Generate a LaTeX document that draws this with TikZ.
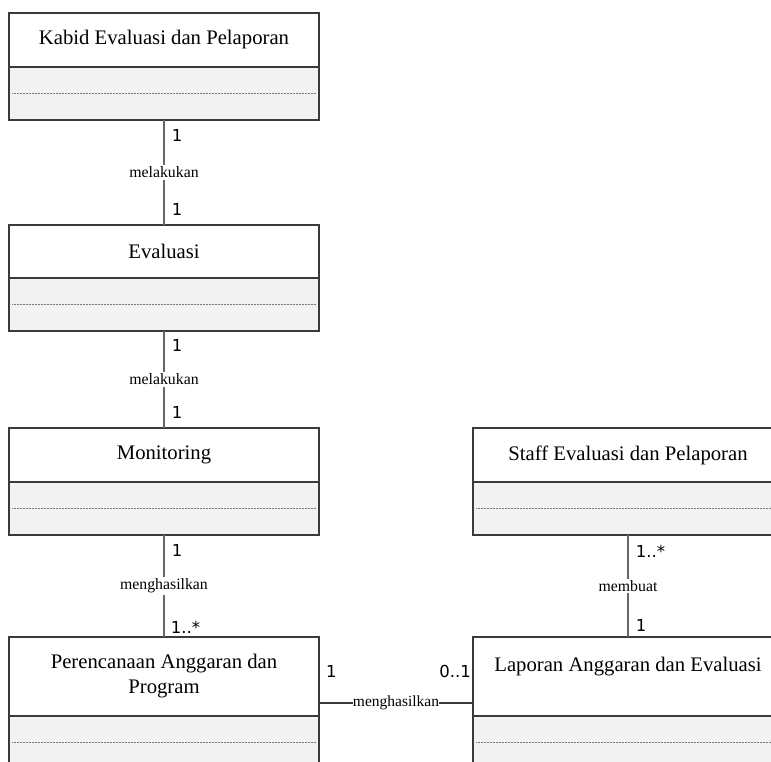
\documentclass[tikz,border=0pt]{standalone}
\usepackage{fontspec}
\setmainfont{Liberation Serif}
\newfontfamily\multfont{DejaVu Sans}
\definecolor{bcol}{HTML}{3A3A3A}
\definecolor{ccol}{HTML}{666666}
\definecolor{compfill}{HTML}{F2F2F2}
\definecolor{dcol}{HTML}{7A7A7A}
\begin{document}
\begin{tikzpicture}[x=1pt,y=-1pt,
  hdr/.style={draw=bcol, line width=1.4pt, fill=white, minimum width=310pt, inner sep=0pt, outer sep=0pt, align=center, font=\fontsize{20.7}{25}\selectfont},
  comp/.style={draw=bcol, line width=1.4pt, fill=compfill, minimum width=310pt, minimum height=53pt, inner sep=0pt, outer sep=0pt, anchor=north},
  conn/.style={draw=ccol, line width=1.8pt},
  hconn/.style={draw=bcol, line width=1.1pt},
  rel/.style={fill=white, inner sep=1.5pt, font=\fontsize{15.8}{18}\selectfont},
  hrel/.style={fill=white, inner sep=0.3pt, font=\fontsize{15.5}{18}\selectfont},
  mult/.style={inner sep=0pt, font=\multfont\fontsize{16.5}{18}\selectfont},
  dline/.style={draw=dcol, line width=0.8pt, dash pattern=on 1pt off 0.5pt}
]
\useasboundingbox (0,0) rectangle (771,762);
\clip (0,0) rectangle (771,762);

% class boxes
\node[hdr, minimum height=54pt] (kabid) at (164,40) {Kabid Evaluasi dan Pelaporan};
\node[comp] (kabidc) at (kabid.south) {};
\node[hdr, minimum height=53pt] (eval) at (164,251.5) {Evaluasi};
\node[comp] (evalc) at (eval.south) {};
\node[hdr, minimum height=54pt] (moni) at (164,455) {Monitoring};
\node[comp] (monic) at (moni.south) {};
\node[hdr, minimum height=79pt] (peren) at (164,676.5) {Perencanaan Anggaran dan\\Program};
\node[comp] (perenc) at (peren.south) {};
\node[hdr, minimum height=54pt] (staff) at (628,455) {Staff Evaluasi dan Pelaporan};
\node[comp] (staffc) at (staff.south) {};
\node[hdr, minimum height=79pt] (lapor) at (628,676.5) {Laporan Anggaran dan Evaluasi\\\mbox{}};
\node[comp] (laporc) at (lapor.south) {};

% dashed separators
\foreach \c in {kabidc,evalc,monic,perenc,staffc,laporc}{
  \draw[dline] ([xshift=3pt]\c.west) -- ([xshift=-3pt]\c.east);
}

% vertical associations
\draw[conn] (kabidc.south) -- node[rel]{melakukan} (eval.north)
  node[mult, pos=0, anchor=north west, xshift=7pt, yshift=-9pt]{1}
  node[mult, pos=1, anchor=south west, xshift=7pt, yshift=9pt]{1};
\draw[conn] (evalc.south) -- node[rel]{melakukan} (moni.north)
  node[mult, pos=0, anchor=north west, xshift=7pt, yshift=-8pt]{1}
  node[mult, pos=1, anchor=south west, xshift=7pt, yshift=9pt]{1};
\draw[conn] (monic.south) -- node[rel]{menghasilkan} (peren.north)
  node[mult, pos=0, anchor=north west, xshift=7pt, yshift=-9pt]{1}
  node[mult, pos=1, anchor=south west, xshift=6pt, yshift=3pt]{1..*};
\draw[conn] (staffc.south) -- node[rel]{membuat} (lapor.north)
  node[mult, pos=0, anchor=north west, xshift=7pt, yshift=-9pt]{1..*}
  node[mult, pos=1, anchor=south west, xshift=7pt, yshift=5pt]{1};

% horizontal association
\draw[hconn] ([yshift=-26.5pt]peren.east) -- node[hrel]{menghasilkan} ([yshift=-26.5pt]lapor.west);
\node[mult, anchor=south west] (m1) at ([xshift=7pt, yshift=-1.5pt]peren.east) {1};
\node[mult, anchor=south east] (m2) at ([xshift=-2pt, yshift=-1.5pt]lapor.west) {0..1};
\end{tikzpicture}
\end{document}
